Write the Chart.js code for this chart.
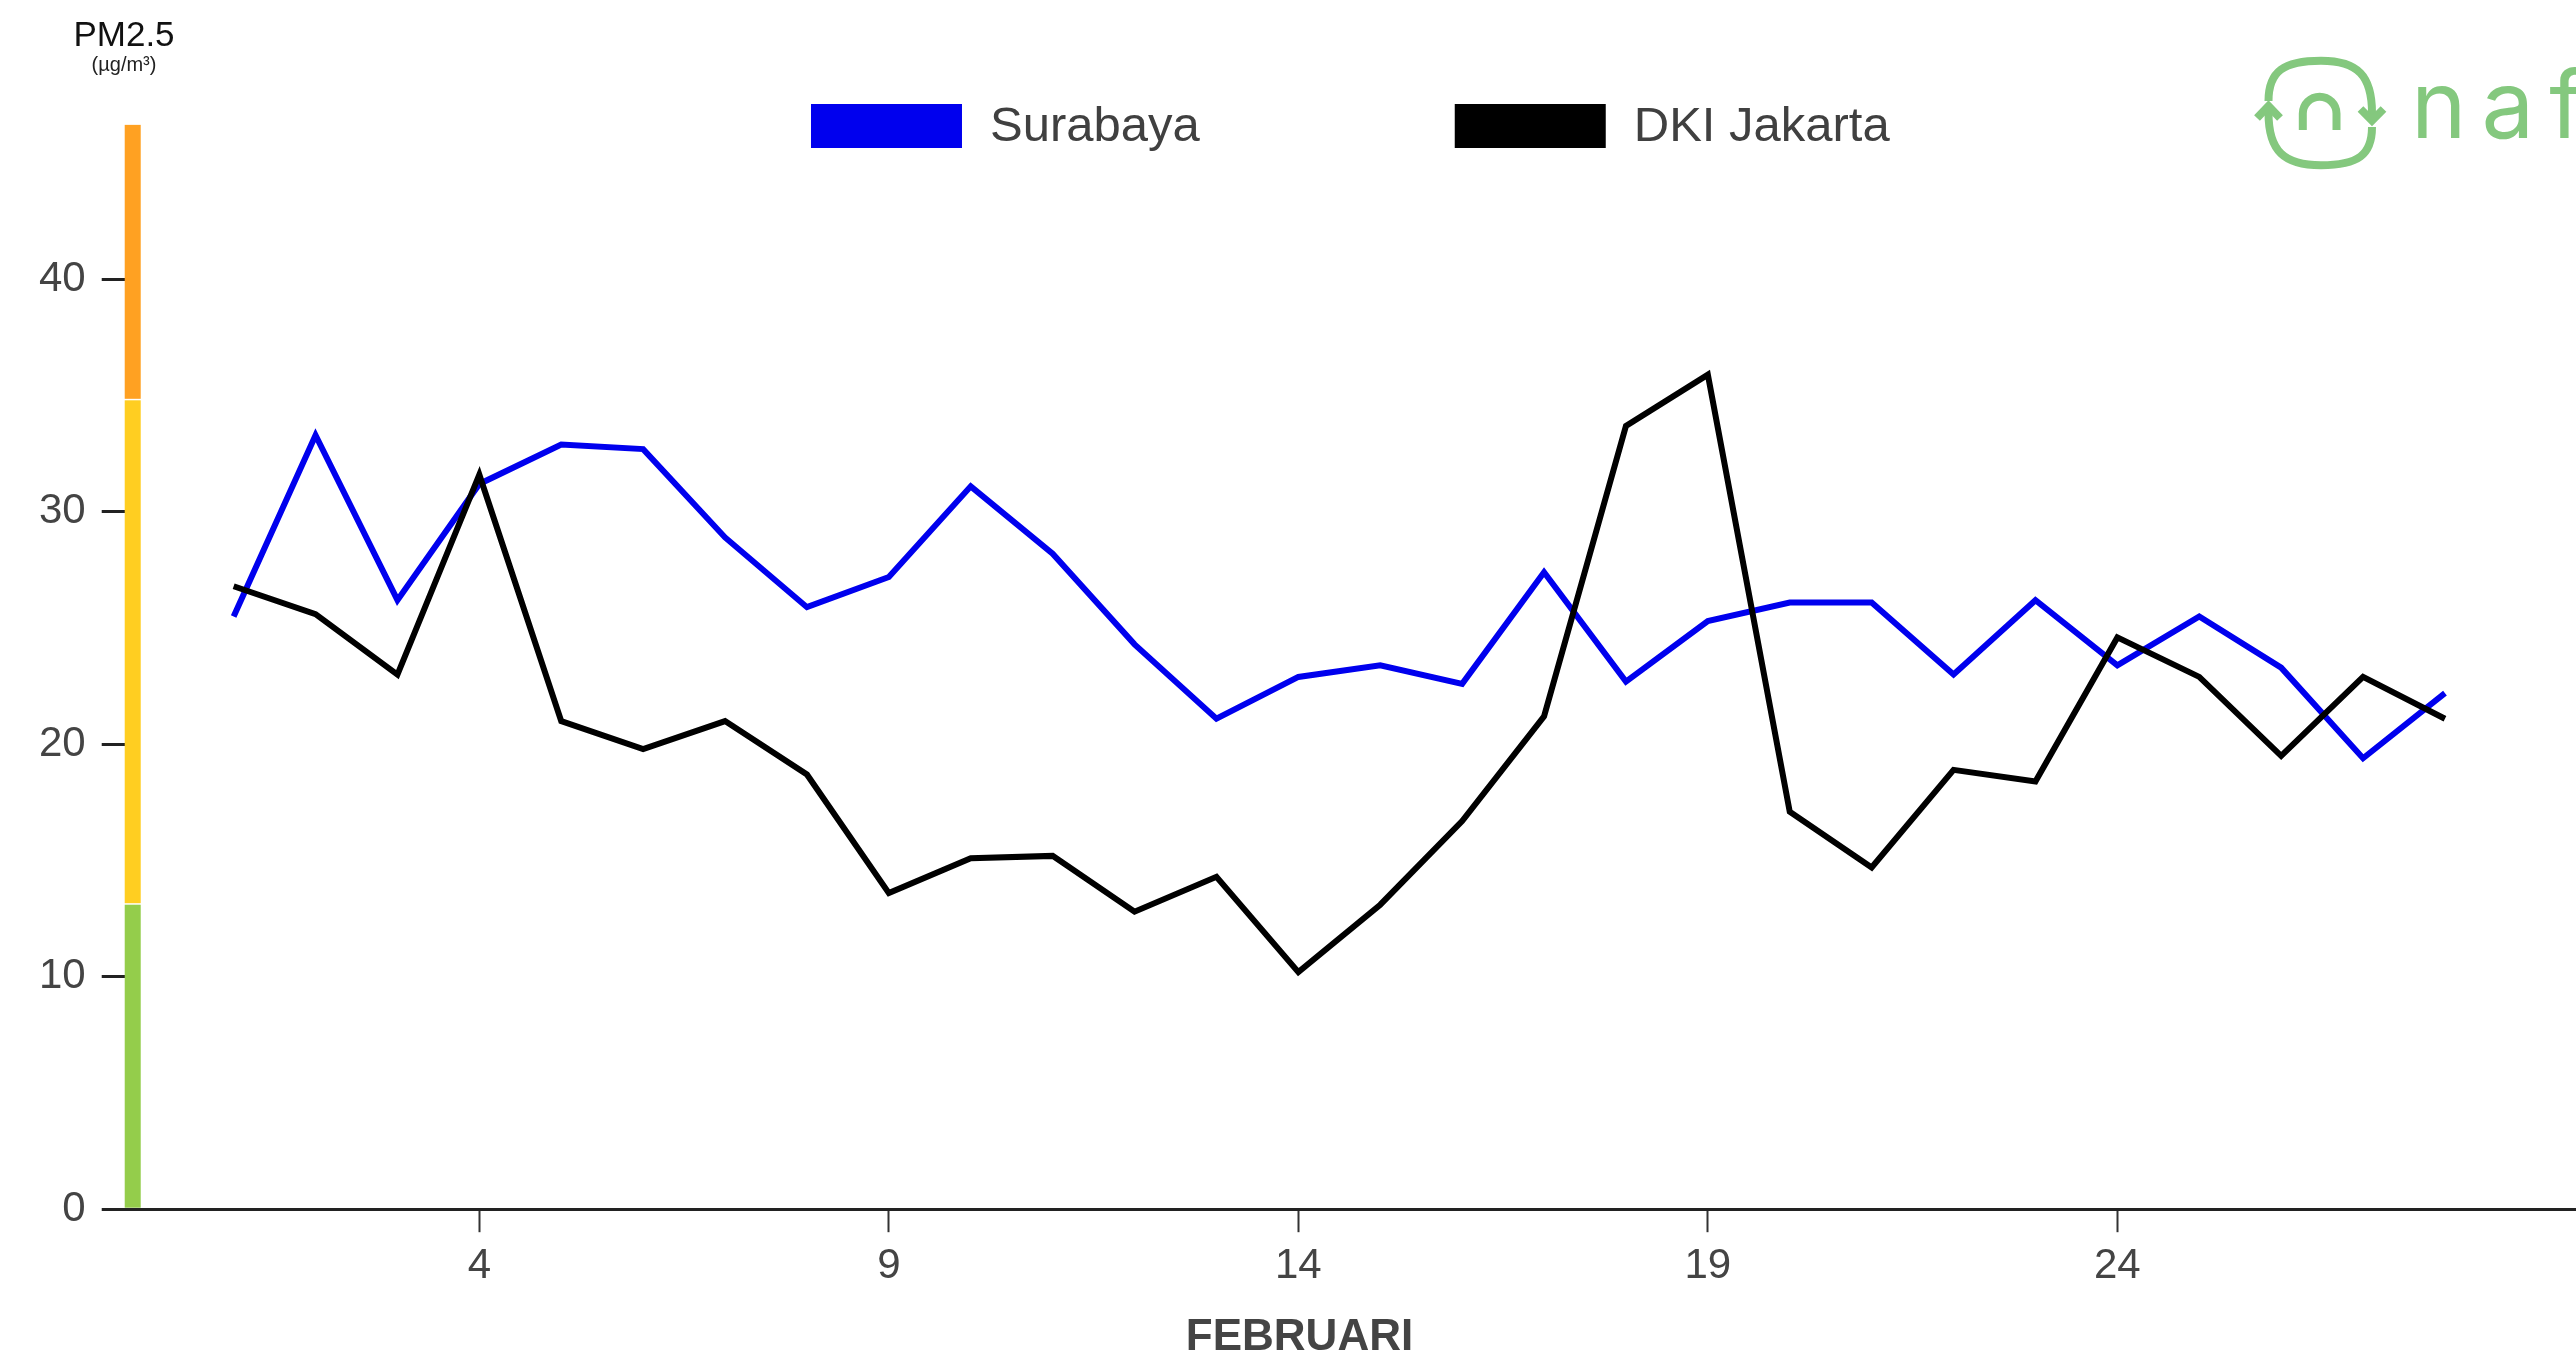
<!DOCTYPE html>
<html>
<head>
<meta charset="utf-8">
<title>PM2.5 Surabaya vs DKI Jakarta - Februari</title>
<script src="https://cdn.jsdelivr.net/npm/chart.js@4.4.1/dist/chart.umd.min.js"></script>
<style>
    html, body { margin: 0; padding: 0; background: #fff; overflow: hidden; }
    #wrap { position: relative; width: 2576px; height: 1358px; }
    #chart { position: absolute; left: 0; top: 0; }
    .unit-title {
        position: absolute;
        left: 24px;
        width: 200px;
        text-align: center;
        font-family: 'Liberation Sans', Arial, sans-serif;
        white-space: nowrap;
    }
    #pm-label { top: 16px; font-size: 35px; line-height: 35px; color: #111; }
    #pm-unit { top: 53px; font-size: 20px; line-height: 22px; color: #222; }
    #logo { position: absolute; left: 2240px; top: 40px; }
</style>
</head>
<body>
<div id="wrap">
    <canvas id="chart" width="2576" height="1358"></canvas>
    <div class="unit-title" id="pm-label">PM2.5</div>
    <div class="unit-title" id="pm-unit">(µg/m³)</div>
    <svg id="logo" width="336" height="150" viewBox="2240 40 336 150">
        <g fill="none" stroke="#84c87e" stroke-width="8">
            <path d="M2268.5 101 C2268.5 71 2284 60.8 2321 60.8 C2358 60.8 2372 76 2372 113 L2372 119"/>
            <polyline points="2360.5,109 2372,120.5 2383.5,109"/>
            <path d="M2372 127 C2372 155 2358 165.2 2321 165.2 C2284 165.2 2268.5 151 2268.5 113 L2268.5 108"/>
            <polyline points="2257,118 2268.5,106 2280,118"/>
            <path d="M2302.8 130 V113.6 A16.85 16.85 0 0 1 2336.5 113.6 V130"/>
        </g>
        <text x="2411" y="138" font-family="Inter, 'Liberation Sans', sans-serif" font-size="94" letter-spacing="15" fill="#84c87e">naf</text>
    </svg>
</div>

<script>
// Daily PM2.5 averages, February (µg/m³)
const days = [1, 2, 3, 4, 5, 6, 7, 8, 9, 10, 11, 12, 13, 14, 15, 16, 17, 18, 19, 20, 21, 22, 23, 24, 25, 26, 27, 28];
const surabaya = [25.5, 33.3, 26.2, 31.2, 32.9, 32.7, 28.9, 25.9, 27.2, 31.1, 28.2, 24.3, 21.1, 22.9, 23.4, 22.6, 27.4, 22.7, 25.3, 26.1, 26.1, 23.0, 26.2, 23.4, 25.5, 23.3, 19.4, 22.2];
const jakarta = [26.8, 25.6, 23.0, 31.6, 21.0, 19.8, 21.0, 18.7, 13.6, 15.1, 15.2, 12.8, 14.3, 10.2, 13.1, 16.7, 21.2, 33.7, 35.9, 17.1, 14.7, 18.9, 18.4, 24.6, 22.9, 19.5, 22.9, 21.1];

const seriesLabels = ['Surabaya', 'DKI Jakarta'];
const xTicks = [4, 9, 14, 19, 24];
const yTicks = [0, 10, 20, 30, 40];
const xAxisTitle = 'FEBRUARI';

// Air quality bands along the y axis (good / moderate / unhealthy for sensitive)
const bandLimits = [0, 13.1, 34.8, 46.65];

// Styles
const bandColors = ['#94cd4b', '#ffce21', '#ffa122'];
const seriesColors = ['#0000ee', '#000000'];
const fontFamily = '"Liberation Sans", Arial, sans-serif';

Chart.defaults.font.family = fontFamily;

// Coloured band that stands in for the y axis line
const aqiBand = {
    id: 'aqiBand',
    beforeDatasetsDraw(chart) {
        const { ctx, chartArea, scales } = chart;
        const y = scales.y;
        ctx.save();
        for (let i = 0; i < bandColors.length; i++) {
            const top = y.getPixelForValue(bandLimits[i + 1]);
            const bottom = y.getPixelForValue(bandLimits[i]) - 1.5;
            ctx.fillStyle = bandColors[i];
            ctx.fillRect(chartArea.left, top, 16, bottom - top);
        }
        ctx.restore();
    }
};

// Legend drawn over the top of the plot, centred on the chart area
const topLegend = {
    id: 'topLegend',
    afterDraw(chart) {
        const { ctx, chartArea } = chart;
        const boxW = 151, boxH = 44, boxGap = 28, itemGap = 255;
        ctx.save();
        ctx.font = '49px ' + fontFamily;
        const items = chart.data.datasets.map(ds => ({
            label: ds.label,
            color: ds.borderColor,
            w: ctx.measureText(ds.label).width
        }));
        const total = items.reduce((s, it) => s + boxW + boxGap + it.w, 0) + itemGap * (items.length - 1);
        let x = (chartArea.left + chartArea.right) / 2 - total / 2;
        items.forEach(it => {
            ctx.fillStyle = it.color;
            ctx.fillRect(x, 104, boxW, boxH);
            ctx.fillStyle = '#404040';
            ctx.textBaseline = 'middle';
            ctx.textAlign = 'left';
            ctx.fillText(it.label, x + boxW + boxGap, 127);
            x += boxW + boxGap + it.w + itemGap;
        });
        ctx.restore();
    }
};

function toPoints(values) {
    return days.map((d, i) => ({ x: d, y: values[i] }));
}

const ctx = document.getElementById('chart').getContext('2d');

new Chart(ctx, {
    type: 'line',
    data: {
        datasets: [
            {
                label: seriesLabels[0],
                data: toPoints(surabaya),
                borderColor: seriesColors[0],
                backgroundColor: seriesColors[0],
                borderWidth: 6,
                pointRadius: 0,
                tension: 0,
                fill: false,
                order: 1
            },
            {
                label: seriesLabels[1],
                data: toPoints(jakarta),
                borderColor: seriesColors[1],
                backgroundColor: seriesColors[1],
                borderWidth: 6,
                pointRadius: 0,
                tension: 0,
                fill: false,
                order: 0
            }
        ]
    },
    options: {
        responsive: false,
        devicePixelRatio: 1,
        animation: false,
        layout: {
            padding: { left: 23, top: 47, right: 0, bottom: 0 }
        },
        plugins: {
            legend: { display: false },
            tooltip: { enabled: false },
            title: {
                display: true,
                position: 'bottom',
                text: xAxisTitle,
                color: '#444',
                font: { size: 44, weight: 'bold', lineHeight: 0.9 },
                padding: { top: 18.6, bottom: 0 }
            }
        },
        scales: {
            x: {
                type: 'linear',
                min: -0.33,
                max: 29.6,
                afterBuildTicks: axis => { axis.ticks = xTicks.map(v => ({ value: v })); },
                border: { display: true, color: '#222', width: 3 },
                grid: {
                    drawOnChartArea: false,
                    drawTicks: true,
                    tickLength: 23,
                    tickColor: '#333',
                    tickWidth: 2
                },
                ticks: {
                    color: '#444',
                    font: { size: 42 },
                    padding: 8.6,
                    maxRotation: 0,
                    autoSkip: false
                }
            },
            y: {
                min: 0,
                max: 50,
                afterBuildTicks: axis => { axis.ticks = yTicks.map(v => ({ value: v })); },
                border: { display: false },
                grid: {
                    drawOnChartArea: false,
                    drawTicks: true,
                    tickLength: 23,
                    tickColor: '#222',
                    tickWidth: 3
                },
                ticks: {
                    color: '#444',
                    font: { size: 42 },
                    padding: 16
                }
            }
        }
    },
    plugins: [aqiBand, topLegend]
});
</script>
</body>
</html>
